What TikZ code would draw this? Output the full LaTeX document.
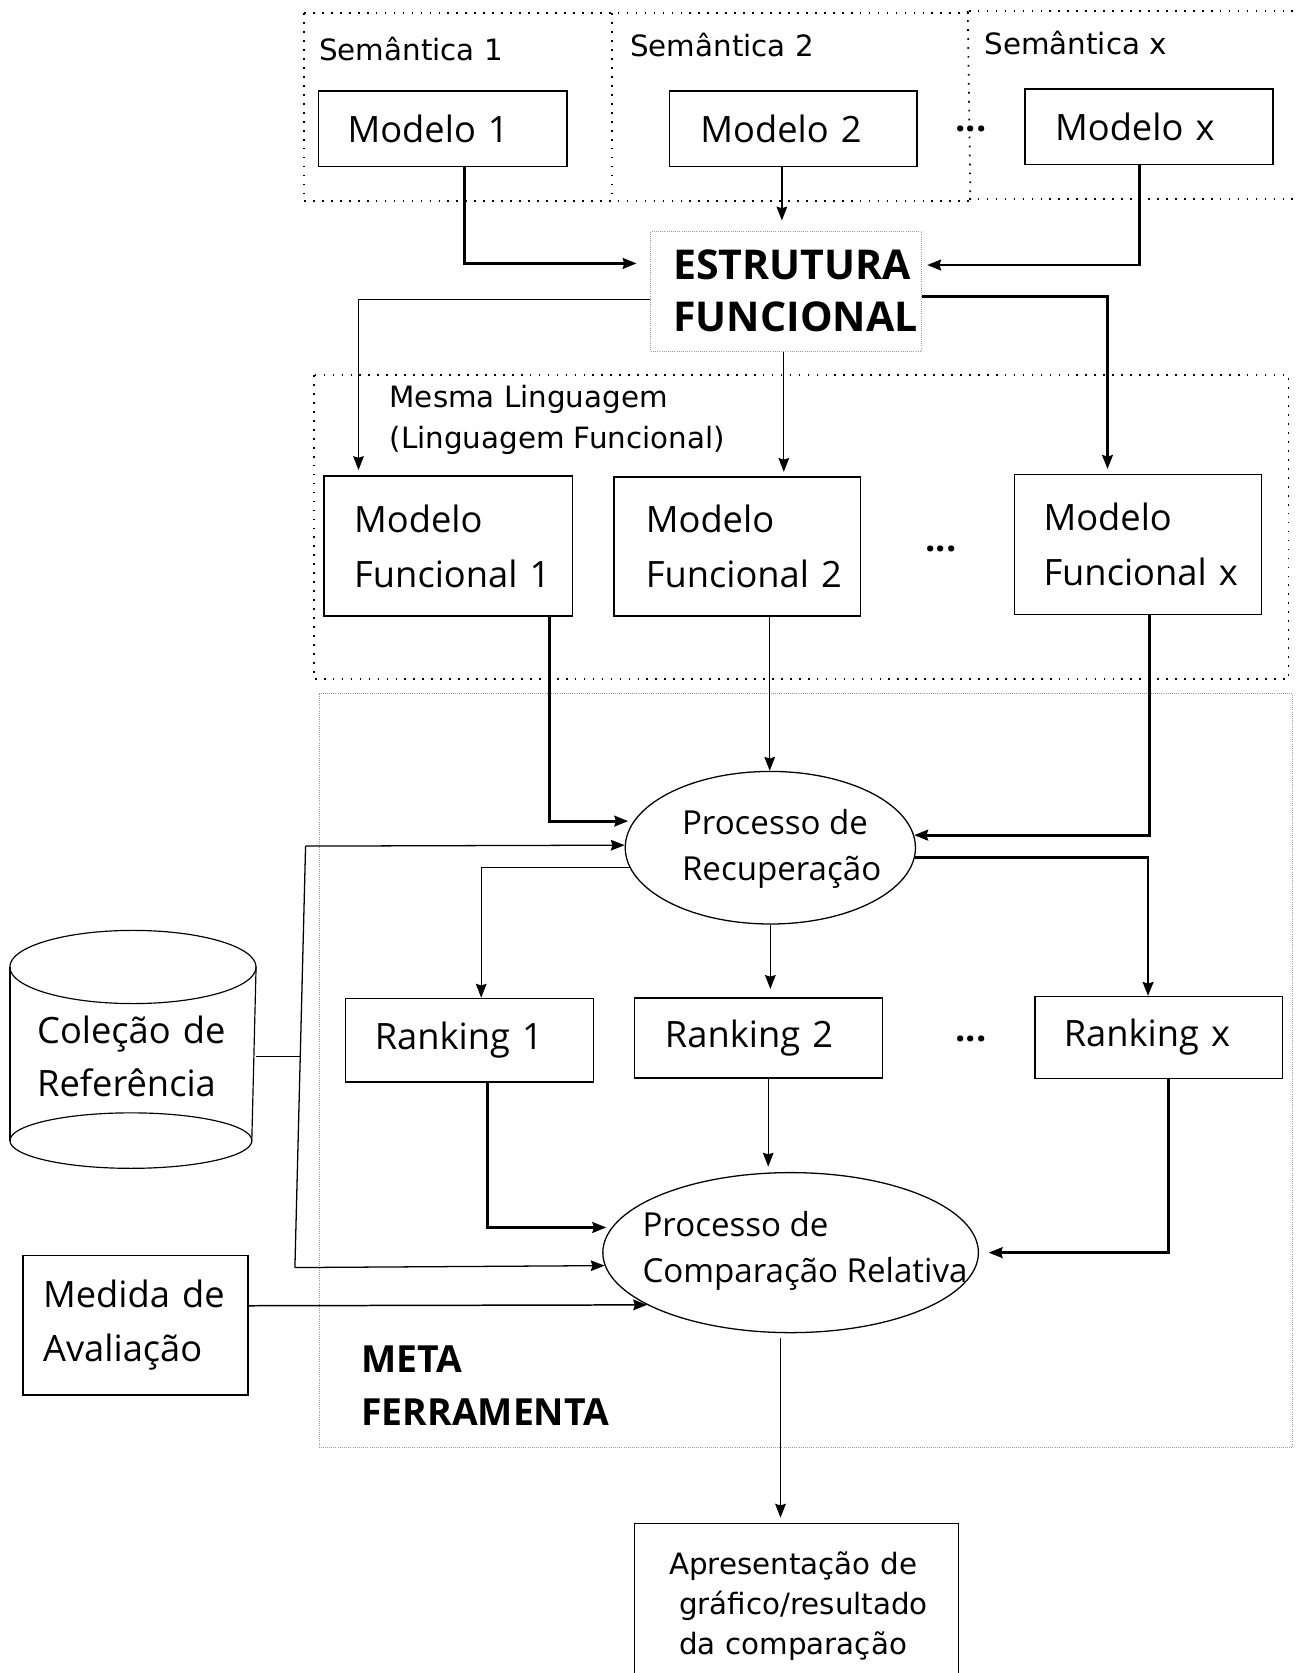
\documentclass[tikz,border=0pt]{standalone}
\usepackage{fontspec}
\usetikzlibrary{arrows.meta,shapes.geometric}
\newfontfamily\vfont{DejaVu Sans}
\newfontfamily\cfont{Open Sans}
\begin{document}
\begin{tikzpicture}[x=1pt,y=-1pt,
  rbox/.style={draw, line width=1.3pt, inner xsep=0pt, inner ysep=0pt, align=left,
    font=\cfont\fontsize{34}{51.6}\selectfont},
  ctext/.style={inner sep=0pt, align=left, font=\cfont\fontsize{34}{50}\selectfont},
  ptext/.style={inner sep=0pt, align=left, font=\cfont\fontsize{31}{43}\selectfont},
  lbl/.style={inner sep=0pt, font=\vfont\fontsize{27.5}{38}\selectfont},
  boldtext/.style={inner sep=0pt, align=left, font=\cfont\bfseries\fontsize{35}{50}\selectfont},
  dots/.style={anchor=base, inner sep=0pt, font=\cfont\bfseries\fontsize{34}{40}\selectfont},
  ell/.style={draw, ellipse, line width=1.2pt, inner sep=0pt},
  tip/.style={-{Stealth[length=13pt,width=10pt,inset=1.5pt]}},
  thn/.style={tip, line width=1.2pt},
  thk/.style={tip, line width=2.6pt},
  region/.style={line width=1.6pt, dash pattern=on 1.6pt off 6.8pt},
  faint/.style={draw=black!40, line width=0.8pt, dash pattern=on 0.8pt off 1.2pt},
]
\useasboundingbox (0,0) rectangle (1214,1568);
\fill[white] (0,0) rectangle (1214,1568);

% ---------- regions ----------
\draw[region] (285,12.5) -- (908,12.5);
\draw[region] (908,10.5) -- (1220,10.5);
\draw[region] (285,188.5) -- (908,188.5);
\draw[region] (908,186.6) -- (1220,186.6);
\draw[region] (285,12.5) -- (285,188.5);
\draw[region] (573.6,12.5) -- (573.6,188.5);
\draw[region] (907,10.5) -- (909.5,187.5);
\draw[region] (294.5,351.6) rectangle (1207.5,636.6);
\draw[faint] (299,650) rectangle (1211.5,1356.6);

% ---------- top row ----------
\node[lbl, anchor=base west] (sem1) at (299,56.25) {Semântica 1};
\node[lbl, anchor=base west] (sem2) at (590.4,52.5) {Semântica 2};
\node[lbl, anchor=base west] (semx) at (922.5,51) {Semântica x};

\node[rbox, minimum width=232.5pt, minimum height=71pt, text width=178.5pt] (m1) at (415,120.8) {Modelo~1};
\node[rbox, minimum width=232pt, minimum height=71pt, text width=174.4pt] (m2) at (743.6,120.8) {Modelo~2};
\node[rbox, minimum width=232.5pt, minimum height=70.6pt, text width=175.9pt] (mx) at (1076.8,118.7) {Modelo~x};
\node[dots] (dt1) at (910,123.5) {...};

\node[faint, draw, minimum width=253.5pt, minimum height=112.5pt, text width=211.5pt,
  inner sep=0pt, align=left, font=\cfont\bfseries\fontsize{38.5}{49}\selectfont]
  (es) at (736.8,272.8) {ESTRUTURA\\FUNCIONAL};

% ---------- functional models ----------
\node[lbl, anchor=north west, align=left] (mesma) at (365,361) {Mesma Linguagem\\(Linguagem Funcional)};
\node[rbox, minimum width=232.6pt, minimum height=131pt, text width=176pt] (mf1) at (420,511.7) {Modelo\\Funcional~1};
\node[rbox, minimum width=231.4pt, minimum height=130.6pt, text width=171.4pt] (mf2) at (691,512.2) {Modelo\\Funcional~2};
\node[rbox, minimum width=231.2pt, minimum height=131pt, text width=177.2pt] (mfx) at (1066.6,510.2) {Modelo\\Funcional~x};
\node[dots] (dt2) at (882,517) {...};

% ---------- retrieval ----------
\node[ell, minimum width=272pt, minimum height=143pt] (pr) at (722,794.5) {};
\node[ptext, anchor=west] (prt) at (639,795.9) {Processo de\\Recuperação};

\node[rbox, minimum width=232.5pt, minimum height=78.5pt, text width=177.5pt] (r1) at (440,975) {Ranking~1};
\node[rbox, minimum width=232.5pt, minimum height=75pt, text width=175.5pt] (r2) at (711,973) {Ranking~2};
\node[rbox, minimum width=232pt, minimum height=76.5pt, text width=178pt] (rx) at (1086,972.3) {Ranking~x};
\node[dots] (dt3) at (910,976.5) {...};

% ---------- comparison ----------
\node[ell, minimum width=352pt, minimum height=150pt] (pcr) at (741,1174) {};
\node[ptext, anchor=west] (pcrt) at (602,1172.7) {Processo de\\Comparação Relativa};

% ---------- collection cylinder ----------
\draw[line width=1.1pt] (124.6,906.3) ellipse [x radius=115.4, y radius=34.3];
\draw[line width=1.1pt] (9.3,906.3) -- (9.3,1069);
\draw[line width=1.1pt] (240,906.3) -- (236,1069);
\draw[line width=1.1pt] (122.7,1069) ellipse [x radius=113.4, y radius=26];
\node[ctext, minimum width=229.7pt, text width=179.6pt] (col) at (124.6,990) {Coleção de\\Referência};

\node[rbox, minimum width=210.6pt, minimum height=131pt, text width=173.2pt,
  font=\cfont\fontsize{34}{50}\selectfont] (med) at (127,1242) {Medida~de\\Avaliação};

\node[boldtext, anchor=north west] (meta) at (338.5,1261) {META\\FERRAMENTA};

\node[rbox, line width=1.2pt, minimum width=303.5pt, minimum height=155pt, text width=238.5pt,
  font=\vfont\fontsize{27.5}{37.5}\selectfont] (apres) at (746.3,1505.5)
  {\mbox{Apresentação de}\\\mbox{\hspace*{9.5pt}gráfico/resultado}\\\mbox{\hspace*{9.5pt}da comparação}};

% ---------- connectors ----------
\coordinate (jt) at (286.4,793);
\coordinate (jm) at (281.4,990);
\coordinate (jb) at (276.4,1188);

\draw[thk, shorten >=13pt] ([xshift=20.3pt]m1.south) |- ([yshift=25.9pt]es.west);
\draw[thn, shorten >=9.5pt] ([xshift=-10.8pt]m2.south) -- ([xshift=-10.8pt]m2.south |- es.north);
\draw[thk, shorten >=5pt] ([xshift=-8.8pt]mx.south) |- ([yshift=24.4pt]es.east);

\draw[thn, shorten >=5pt] ([yshift=-7.8pt]es.west) -| ([xshift=-84pt]mf1.north);
\draw[thn, shorten >=4pt] ([xshift=-2.2pt]es.south) -- ([xshift=-2.2pt]es.south |- mf2.north);
\draw[thk, shorten >=4.5pt] ([yshift=-5.2pt]es.east) -| ([xshift=-28.6pt]mfx.north);

\draw[thk, shorten >=5pt] ([xshift=95.3pt]mf1.south) |- (pr.169.15);
\draw[thn] ([xshift=30.4pt]mf2.south) -- ([xshift=30.4pt]mf2.south |- pr.north);
\draw[thk] ([xshift=10.4pt]mfx.south) |- (pr.5.8);

\draw[line width=1.2pt] (col.east) -- (jm);
\draw[line width=1.2pt] (jt) -- (jb);
\draw[thn] (jt) -- (pr.179.4);
\draw[thn] (jb) -- (pcr.184.6);

\draw[thn] (pr.188.5) -| ([xshift=11pt]r1.north);
\draw[thn, shorten >=8pt] (pr.south) -- (pr.south |- r2.north);
\draw[thk] (pr.356.6) -| ([xshift=-10pt]rx.north);

\draw[thk, shorten >=5pt] ([xshift=16.6pt]r1.south) |- (pcr.172.5);
\draw[thn, shorten >=5pt] ([xshift=9pt]r2.south) -- ([xshift=9pt]r2.south |- pcr.north);
\draw[thk, shorten >=9pt] ([xshift=9.5pt]rx.south) |- (pcr.east);

\draw[thn, line width=1.4pt] ([yshift=18.2pt]med.east) -- (pcr.200.7);

\draw[thn, shorten <=4pt, shorten >=5pt] ([xshift=-9.5pt]pcr.south) -- ([xshift=-9.5pt]pcr.south |- apres.north);
\end{tikzpicture}
\end{document}
